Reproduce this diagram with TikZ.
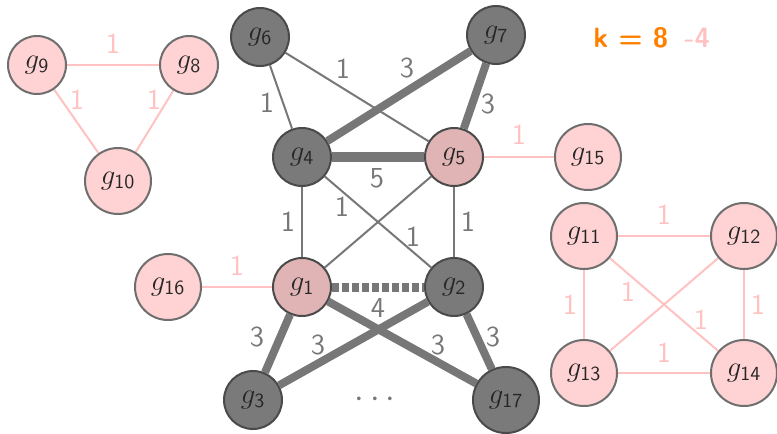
\documentclass[tikz,border=0pt]{standalone}
\usetikzlibrary{backgrounds}
\definecolor{nodegray}{HTML}{7A7A7A}
\definecolor{nodeline}{HTML}{4A4A4A}
\definecolor{pinkline}{HTML}{6E6E6E}
\definecolor{lightpink}{HTML}{FFD3D3}
\definecolor{midpink}{HTML}{E0B4B4}
\definecolor{edgegray}{HTML}{777777}
\definecolor{edgepink}{HTML}{FFC2C2}
\definecolor{korange}{HTML}{FF8000}
\tikzset{
  gnode/.style={circle, draw=nodeline, line width=1pt, fill=nodegray, minimum size=29pt, inner sep=0pt,
    font=\fontsize{14}{16}\selectfont, text=black!85},
  pnode/.style={gnode, draw=pinkline, fill=lightpink},
  mnode/.style={gnode, fill=midpink},
  wide/.style={minimum size=33pt},
  thin/.style={draw=edgegray, line width=1pt},
  heavy/.style={draw=edgegray, line width=4pt},
  heavier/.style={draw=edgegray, line width=5pt},
  dashheavy/.style={draw=edgegray, line width=4.5pt, dash pattern=on 3.5pt off 1.5pt},
  pinkedge/.style={draw=edgepink, line width=1pt},
  wlab/.style={font=\fontsize{14.5}{16}\selectfont\sffamily, text=edgegray, inner sep=0pt},
  plab/.style={wlab, text=edgepink},
}
\newcommand{\gname}[1]{$g_{\mathsf{#1}}$}
\begin{document}
\begin{tikzpicture}[x=0.5pt, y=-0.5pt]
\useasboundingbox (0,0) rectangle (777,434);

% left triangle
\node[pnode] (g9) at (37,65) {\gname{9}};
\node[pnode] (g8) at (189,65) {\gname{8}};
\node[pnode, wide] (g10) at (118,181) {\gname{10}};

% central cluster
\node[gnode] (g6) at (260,37) {\gname{6}};
\node[gnode] (g7) at (496,35) {\gname{7}};
\node[gnode] (g4) at (302,157) {\gname{4}};
\node[mnode] (g5) at (454,157) {\gname{5}};
\node[pnode, wide] (g15) at (588,157) {\gname{15}};
\node[pnode, wide] (g16) at (168,287) {\gname{16}};
\node[mnode] (g1) at (302,287) {\gname{1}};
\node[gnode] (g2) at (454,287) {\gname{2}};
\node[gnode] (g3) at (253,400) {\gname{3}};
\node[gnode, wide] (g17) at (506,400) {\gname{17}};
\node[text=edgegray, font=\fontsize{18}{20}\selectfont, inner sep=0pt] (dots) at (375,400) {$\cdots$};

% right square
\node[pnode, wide] (g11) at (584,236) {\gname{11}};
\node[pnode, wide] (g12) at (744,236) {\gname{12}};
\node[pnode, wide] (g13) at (584,373) {\gname{13}};
\node[pnode, wide] (g14) at (744,373) {\gname{14}};

% budget
\node[font=\fontsize{14}{16}\selectfont\sffamily\bfseries, text=korange, anchor=west, inner sep=0pt] (k) at (593,38) {k = 8};
\node[font=\fontsize{14}{16}\selectfont\sffamily\bfseries, text=edgepink, anchor=west, inner sep=0pt] (delta) at (684,38) {-4};

\begin{scope}[on background layer]
  \draw[pinkedge] (g9) -- (g8);
  \draw[pinkedge] (g9) -- (g10);
  \draw[pinkedge] (g8) -- (g10);

  \draw[thin] (g6) -- (g4);
  \draw[thin] (g6) -- (g5);
  \draw[heavy] (g4) -- (g7);
  \draw[heavy] (g7) -- (g5);
  \draw[heavier] (g4) -- (g5);
  \draw[pinkedge] (g5) -- (g15);
  \draw[thin] (g4) -- (g1);
  \draw[thin] (g4) -- (g2);
  \draw[thin] (g5) -- (g1);
  \draw[thin] (g5) -- (g2);
  \draw[pinkedge] (g16) -- (g1);
  \draw[dashheavy] (g1) -- (g2);
  \draw[heavy] (g1) -- (g3);
  \draw[heavy] (g2) -- (g3);
  \draw[heavy] (g1) -- (g17);
  \draw[heavy] (g2) -- (g17);

  \draw[pinkedge] (g11) -- (g12);
  \draw[pinkedge] (g11) -- (g13);
  \draw[pinkedge] (g12) -- (g14);
  \draw[pinkedge] (g13) -- (g14);
  \draw[pinkedge] (g11) -- (g14);
  \draw[pinkedge] (g12) -- (g13);
\end{scope}

% edge weights
\node[plab] (w98) at (113,44) {1};
\node[plab] (w910) at (77,100) {1};
\node[plab] (w810) at (154,100) {1};
\node[wlab] (w64) at (267,103) {1};
\node[wlab] (w65) at (343,69) {1};
\node[wlab] (w47) at (407,68) {3};
\node[wlab] (w75) at (488,104) {3};
\node[plab] (w515) at (519,135) {1};
\node[wlab] (w45) at (377,178) {5};
\node[wlab] (w41) at (288,222) {1};
\node[wlab] (w42) at (342,207) {1};
\node[wlab] (w51) at (413,237) {1};
\node[wlab] (w52) at (468,222) {1};
\node[plab] (w161) at (237,266) {1};
\node[wlab] (w12) at (378,308) {4};
\node[wlab] (w13) at (257,337) {3};
\node[wlab] (w23) at (318,345) {3};
\node[wlab] (w117) at (438,345) {3};
\node[wlab] (w217) at (493,337) {3};
\node[plab] (w1112) at (664,215) {1};
\node[plab] (w1113) at (570,305) {1};
\node[plab] (w1214) at (758,305) {1};
\node[plab] (w1114) at (701,320) {1};
\node[plab] (w1213) at (628,292) {1};
\node[plab] (w1314) at (664,353) {1};
\end{tikzpicture}
\end{document}
